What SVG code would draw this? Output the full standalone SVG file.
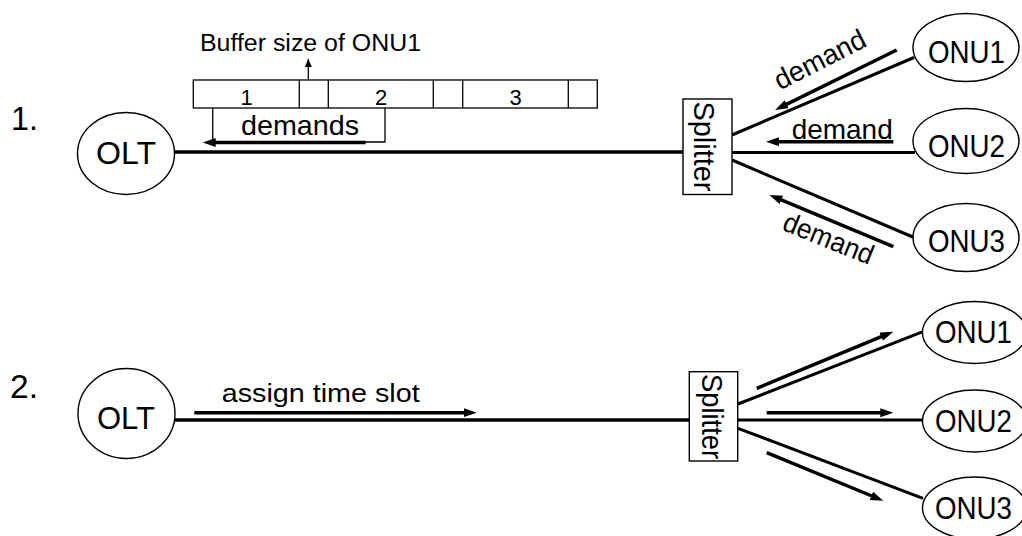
<svg xmlns="http://www.w3.org/2000/svg" width="1022" height="536" viewBox="0 0 1022 536">
  <style>
    text { font-family: "Liberation Sans", Arial, sans-serif; fill: #000; }
    .node { fill: #fff; stroke: #000; stroke-width: 1.4; }
    .thin { fill: none; stroke: #000; stroke-width: 1.3; }
    .fiber { fill: none; stroke: #000; stroke-width: 3.5; }
    .drop { fill: none; stroke: #000; stroke-width: 3; }
    .flow { fill: none; stroke: #000; stroke-width: 3.5; marker-end: url(#head); }
    .big { font-size: 34px; }
    .lbl { font-size: 32px; }
    .note { font-size: 28px; }
  </style>
  <defs>
    <marker id="head" markerUnits="userSpaceOnUse" markerWidth="14" markerHeight="10" refX="2" refY="4.5" orient="auto">
      <path d="M0,0 L13,4.5 L0,9 z" fill="#000"/>
    </marker>
    <marker id="headS" markerUnits="userSpaceOnUse" markerWidth="9" markerHeight="8" refX="8" refY="3.5" orient="auto">
      <path d="M0,0 L8,3.5 L0,7 z" fill="#000"/>
    </marker>
  </defs>
  <rect width="1022" height="536" fill="#fff"/>

  <!-- step numbers -->
  <text class="big" x="11" y="130" textLength="27" lengthAdjust="spacingAndGlyphs">1.</text>
  <text class="big" x="10" y="398" textLength="28" lengthAdjust="spacingAndGlyphs">2.</text>

  <!-- connectors -->
  <g id="connectors">
    <!-- step 1: fibers -->
    <line class="fiber" x1="174" y1="152" x2="683" y2="152"/>
    <line class="drop" x1="732" y1="135" x2="914" y2="57.5"/>
    <line class="drop" x1="732" y1="152.5" x2="915" y2="152.5"/>
    <line class="drop" x1="732" y1="160" x2="914" y2="237.5"/>
    <!-- step 1: requests -->
    <line class="flow" x1="896.7" y1="50" x2="784.9" y2="105.1"/>
    <line class="flow" x1="893.3" y1="141.7" x2="777" y2="141.7"/>
    <line class="flow" x1="893.3" y1="246.7" x2="779.5" y2="199.2"/>
    <line class="flow" x1="365.7" y1="142.5" x2="213.7" y2="142.5"/>
    <path class="thin" d="M212.7,108 V143 M385,108 V142 H362"/>
    <line class="thin" x1="308.3" y1="80" x2="308.3" y2="59" marker-end="url(#headS)"/>

    <!-- step 2: fibers -->
    <line class="fiber" x1="175" y1="420" x2="689" y2="420"/>
    <line class="drop" x1="738" y1="404" x2="923" y2="331.7"/>
    <line class="drop" x1="738" y1="420" x2="922" y2="420"/>
    <line class="drop" x1="738" y1="428.3" x2="923" y2="498.3"/>
    <!-- step 2: grants -->
    <line class="flow" x1="194.3" y1="412.7" x2="465.7" y2="412.7"/>
    <line class="flow" x1="756.7" y1="388.3" x2="883.1" y2="335.9"/>
    <line class="flow" x1="766.7" y1="412.7" x2="882.3" y2="412.7"/>
    <line class="flow" x1="766.7" y1="452.7" x2="873.1" y2="496.5"/>
  </g>

  <!-- labels on the links -->
  <text font-size="23" x="200" y="51" textLength="221" lengthAdjust="spacingAndGlyphs">Buffer size of ONU1</text>
  <text class="note" x="241" y="135" textLength="118" lengthAdjust="spacingAndGlyphs">demands</text>
  <text class="note" transform="translate(780 90.5) rotate(-27)" textLength="99" lengthAdjust="spacingAndGlyphs">demand</text>
  <text class="note" x="791.7" y="138.5" textLength="101" lengthAdjust="spacingAndGlyphs">demand</text>
  <text class="note" transform="translate(781 229.5) rotate(22)" textLength="95" lengthAdjust="spacingAndGlyphs">demand</text>
  <text font-size="26" x="221.7" y="401.7" textLength="198" lengthAdjust="spacingAndGlyphs">assign time slot</text>

  <!-- ONU1 buffer map -->
  <g id="buffer">
    <rect class="thin" x="193.3" y="80" width="404" height="28"/>
    <path class="thin" d="M299.3,80 V108 M328.3,80 V108 M433.3,80 V108 M462.7,80 V108 M568.3,80 V108"/>
    <g font-size="22" text-anchor="middle">
      <text x="246.5" y="104.5">1</text>
      <text x="381" y="104.5">2</text>
      <text x="515.5" y="104.5">3</text>
    </g>
  </g>

  <!-- step 1 nodes -->
  <g id="olt1">
    <ellipse class="node" cx="126" cy="153.5" rx="48.5" ry="41"/>
    <text class="lbl" x="126" y="164" text-anchor="middle" textLength="60" lengthAdjust="spacingAndGlyphs">OLT</text>
  </g>
  <g id="splitter1">
    <rect class="node" x="683" y="99" width="49" height="95.5"/>
    <text font-size="30" transform="translate(694 101.5) rotate(90)" textLength="90" lengthAdjust="spacingAndGlyphs">Splitter</text>
  </g>
  <g id="onu1a">
    <ellipse class="node" cx="966" cy="47.5" rx="53" ry="34"/>
    <text class="lbl" x="966.5" y="63" text-anchor="middle" textLength="77" lengthAdjust="spacingAndGlyphs">ONU1</text>
  </g>
  <g id="onu2a">
    <ellipse class="node" cx="966" cy="141" rx="53" ry="32.5"/>
    <text class="lbl" x="966.5" y="157" text-anchor="middle" textLength="77" lengthAdjust="spacingAndGlyphs">ONU2</text>
  </g>
  <g id="onu3a">
    <ellipse class="node" cx="966" cy="237.5" rx="53" ry="34"/>
    <text class="lbl" x="966.5" y="252" text-anchor="middle" textLength="77" lengthAdjust="spacingAndGlyphs">ONU3</text>
  </g>

  <!-- step 2 nodes -->
  <g id="olt2">
    <ellipse class="node" cx="126.5" cy="413.5" rx="48.5" ry="45"/>
    <text class="lbl" x="126" y="428.5" text-anchor="middle" textLength="58" lengthAdjust="spacingAndGlyphs">OLT</text>
  </g>
  <g id="splitter2">
    <rect class="node" x="689.3" y="371.7" width="48.4" height="89.3"/>
    <text font-size="30" transform="translate(702 374) rotate(90)" textLength="85" lengthAdjust="spacingAndGlyphs">Splitter</text>
  </g>
  <g id="onu1b">
    <ellipse class="node" cx="974.5" cy="332.5" rx="52" ry="31"/>
    <text class="lbl" x="973.5" y="343" text-anchor="middle" textLength="77" lengthAdjust="spacingAndGlyphs">ONU1</text>
  </g>
  <g id="onu2b">
    <ellipse class="node" cx="974.5" cy="421" rx="52" ry="31"/>
    <text class="lbl" x="973.5" y="431.5" text-anchor="middle" textLength="77" lengthAdjust="spacingAndGlyphs">ONU2</text>
  </g>
  <g id="onu3b">
    <ellipse class="node" cx="974.5" cy="508" rx="52" ry="31"/>
    <text class="lbl" x="973.5" y="519" text-anchor="middle" textLength="77" lengthAdjust="spacingAndGlyphs">ONU3</text>
  </g>
</svg>
